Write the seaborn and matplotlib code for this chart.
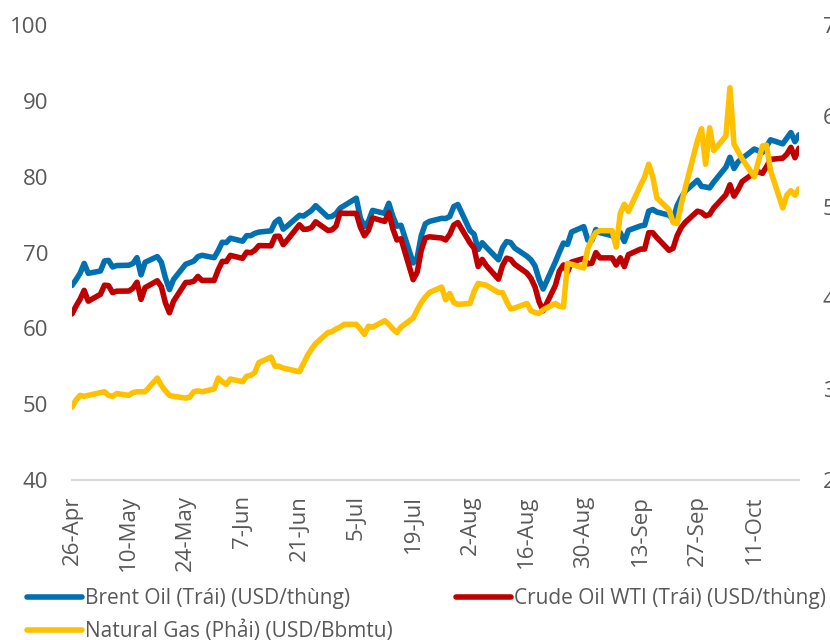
import pandas as pd
import numpy as np
import matplotlib
matplotlib.use('Agg')
import matplotlib.pyplot as plt
import seaborn as sns

# business days 26-Apr .. 22-Oct
dates = pd.bdate_range('2021-04-26', '2021-10-22')

brent = [65.65, 66.42, 67.27, 68.56, 67.25,
         67.56, 68.88, 68.96, 68.09, 68.28,
         68.32, 68.55, 69.32, 67.05, 68.71,
         69.46, 68.71, 66.66, 65.11, 66.44,
         68.46, 68.65, 68.87, 69.46, 69.63,
         69.32, 70.25, 71.35, 71.31, 71.89,
         71.49, 72.22, 72.22, 72.52, 72.69,
         72.86, 73.99, 74.39, 73.08, 73.51,
         74.90, 74.81, 75.19, 75.56, 76.18,
         74.68, 74.76, 75.13, 75.84, 76.17,
         77.16, 74.53, 73.43, 74.12, 75.55,
         75.16, 76.49, 74.76, 73.47, 73.59,
         68.62, 69.35, 72.23, 73.79, 74.10,
         74.50, 74.48, 74.74, 76.05, 76.33,
         72.89, 72.41, 70.38, 71.29, 70.70,
         69.04, 70.63, 71.44, 71.31, 70.59,
         69.51, 69.03, 68.23, 66.45, 65.18,
         68.75, 70.05, 71.25, 71.07, 72.70,
         73.41, 71.63, 71.59, 73.03, 72.61,
         72.22, 71.69, 72.60, 71.45, 72.92,
         73.51, 73.60, 75.46, 75.67, 75.34,
         74.92, 74.36, 76.19, 77.25, 78.09,
         79.53, 78.72, 78.64, 78.52, 79.28,
         81.26, 82.56, 81.08, 81.95, 82.39,
         83.65, 83.42, 83.18, 84.00, 84.86,
         84.33, 85.08, 85.82, 84.61, 85.53]

wti = [61.91, 62.94, 63.86, 65.01, 63.58,
       64.49, 65.69, 65.63, 64.71, 64.90,
       64.92, 65.28, 66.08, 63.82, 65.37,
       66.27, 65.49, 63.36, 62.05, 63.58,
       66.05, 66.07, 66.21, 66.85, 66.32,
       66.32, 67.72, 68.83, 68.81, 69.62,
       69.23, 70.05, 69.96, 70.29, 70.91,
       70.88, 72.12, 72.15, 71.04, 71.64,
       73.66, 73.06, 73.08, 73.30, 74.05,
       72.91, 72.98, 73.47, 75.23, 75.16,
       75.16, 73.37, 72.20, 72.94, 74.56,
       74.10, 75.25, 73.13, 71.65, 71.81,
       66.42, 67.42, 70.30, 71.91, 72.07,
       71.91, 71.65, 72.39, 73.62, 73.95,
       71.26, 70.56, 68.15, 69.09, 68.28,
       66.48, 68.29, 69.25, 69.09, 68.44,
       67.29, 66.59, 65.46, 63.50, 62.32,
       65.64, 67.54, 68.36, 67.42, 68.74,
       69.21, 68.50, 68.59, 69.99, 69.29,
       69.29, 68.35, 69.30, 68.14, 69.72,
       70.45, 70.46, 72.61, 72.61, 71.97,
       70.29, 70.56, 72.23, 73.30, 73.98,
       75.45, 75.29, 74.83, 75.03, 75.88,
       77.62, 78.93, 77.43, 78.30, 79.35,
       80.52, 80.64, 80.44, 81.31, 82.28,
       82.44, 82.96, 83.87, 82.50, 83.76]

gas = [2.80, 2.88, 2.93, 2.92, 2.93,
       2.96, 2.97, 2.93, 2.92, 2.95,
       2.93, 2.96, 2.97, 2.97, 2.97,
       3.12, 3.04, 2.98, 2.93, 2.92,
       2.90, 2.91, 2.97, 2.98, 2.97,
       3.00, 3.12, 3.08, 3.05, 3.11,
       3.08, 3.14, 3.15, 3.18, 3.29,
       3.35, 3.25, 3.25, 3.23, 3.22,
       3.19, 3.28, 3.37, 3.44, 3.50,
       3.62, 3.63, 3.66, 3.68, 3.71,
       3.71, 3.66, 3.60, 3.69, 3.68,
       3.75, 3.71, 3.66, 3.62, 3.68,
       3.78, 3.87, 3.95, 4.01, 4.06,
       4.12, 3.98, 4.05, 3.95, 3.93,
       3.94, 4.07, 4.16, 4.15, 4.14,
       4.06, 4.06, 3.96, 3.88, 3.89,
       3.94, 3.86, 3.84, 3.83, 3.87,
       3.94, 3.91, 3.90, 4.38, 4.37,
       4.33, 4.54, 4.65, 4.72, 4.74,
       4.74, 4.56, 4.93, 5.03, 4.95,
       5.24, 5.33, 5.47, 5.33, 5.10,
       4.97, 4.83, 4.82, 5.03, 5.21,
       5.73, 5.86, 5.47, 5.87, 5.62,
       5.78, 6.31, 5.69, 5.61, 5.53,
       5.33, 5.50, 5.67, 5.68, 5.40,
       4.99, 5.13, 5.18, 5.13, 5.20]

labels = ['Brent Oil (Trái) (USD/thùng)',
          'Crude Oil WTI (Trái) (USD/thùng)',
          'Natural Gas (Phải) (USD/Bbmtu)']
colors = ['#0070B0', '#C00000', '#FFC000']

tick_dates = pd.date_range('2021-04-26', '2021-10-11', freq='14D')
tick_labels = [f'{d.day}-{d:%b}' for d in tick_dates]

df = pd.DataFrame({'date': dates, 'brent': brent, 'wti': wti, 'gas': gas})

sns.set_style('white')
plt.rcParams['font.family'] = ['Open Sans', 'DejaVu Sans']
txt = '#595959'
lw = 4.0

fig = plt.figure(figsize=(8.3, 6.4), dpi=100)
ax = fig.add_axes([72 / 830, 1 - 480 / 640, (799 - 72) / 830, (480 - 25) / 640])
kw = dict(linewidth=lw, legend=False, solid_joinstyle='round', solid_capstyle='round')
sns.lineplot(data=df, x='date', y='brent', ax=ax, color=colors[0], **kw)
sns.lineplot(data=df, x='date', y='wti', ax=ax, color=colors[1], **kw)
ax2 = ax.twinx()
sns.lineplot(data=df, x='date', y='gas', ax=ax2, color=colors[2], **kw)

ax.set_ylim(40, 100)
ax2.set_ylim(2, 7)
ax.set_yticks(range(40, 101, 10))
ax2.set_yticks(range(2, 8))
ax.set_xlim(dates[0], dates[-1])
ax.set_xticks(tick_dates)
ax.set_xticklabels(tick_labels, rotation=90)
for a in (ax, ax2):
    a.set_xlabel('')
    a.set_ylabel('')
    for s in a.spines.values():
        s.set_visible(False)
    a.tick_params(length=0, labelsize=16, colors=txt)
ax.tick_params(axis='y', pad=17)
ax2.tick_params(axis='y', pad=17)
ax.tick_params(axis='x', pad=11)
ax.spines['bottom'].set_visible(True)
ax.spines['bottom'].set_color('#d9d9d9')
ax.spines['bottom'].set_linewidth(1.5)
ax.grid(False)
ax2.grid(False)

hl = [ax.get_lines()[0], ax2.get_lines()[0], ax.get_lines()[1]]
hlab = [labels[0], labels[2], labels[1]]
fig.legend(hl, hlab, ncol=2, loc='upper left', mode='expand',
           bbox_to_anchor=(27 / 830, 0, 799 / 830, 1 - 588 / 640),
           borderaxespad=0, borderpad=0, frameon=False, fontsize=15,
           handlelength=2.64, handletextpad=0.15, labelspacing=0.55,
           labelcolor=txt)

fig.savefig('out.png', dpi=100)
